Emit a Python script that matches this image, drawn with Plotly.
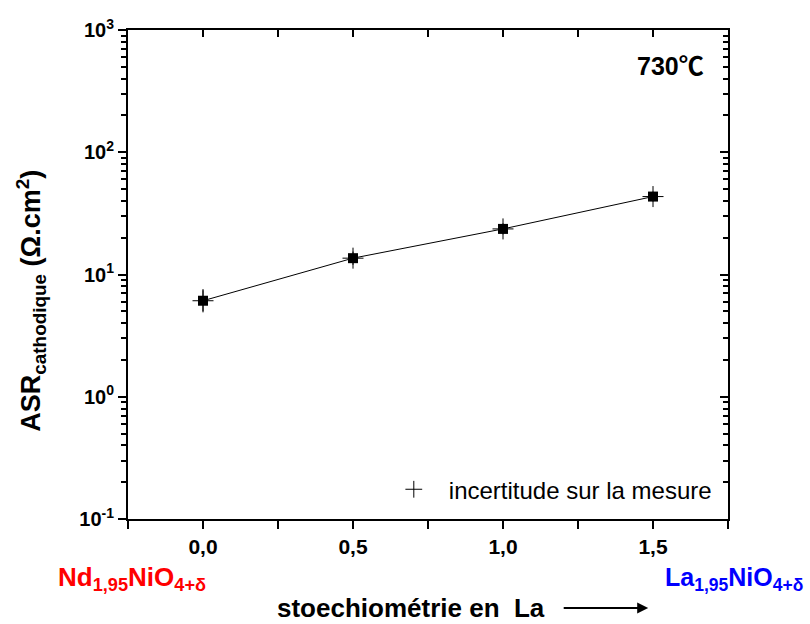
import plotly.graph_objects as go

x_la = [0.0, 0.5, 1.0, 1.5]
asr = [6.1, 13.6, 23.6, 43.4]
err_plus = [1.5, 1.8, 2.6, 4.2]
err_minus = [1.2, 1.6, 2.3, 3.8]

y_major = [0.1, 1, 10, 100, 1000]
y_major_text = ["<b>10<sup>-1</sup></b>", "<b>10<sup>0</sup></b>", "<b>10<sup>1</sup></b>",
                "<b>10<sup>2</sup></b>", "<b>10<sup>3</sup></b>"]
x_major = [0.0, 0.5, 1.0, 1.5]
x_major_text = ["<b>0,0</b>", "<b>0,5</b>", "<b>1,0</b>", "<b>1,5</b>"]
x_minor = [-0.25, 0.25, 0.75, 1.25, 1.75]

y_minor = [m * 10 ** e for e in range(-1, 3) for m in range(2, 10)]

FONT = "Arial, Liberation Sans, Noto Sans CJK JP, sans-serif"

fig = go.Figure()

# connecting line + squares
fig.add_trace(go.Scatter(
    x=x_la, y=asr, mode="lines+markers",
    line=dict(color="black", width=1),
    marker=dict(symbol="square", size=10, color="black"),
    showlegend=False, hoverinfo="skip"))

# uncertainty crosses
fig.add_trace(go.Scatter(
    x=x_la, y=asr, mode="markers",
    marker=dict(symbol="cross-thin-open", size=15, color="black",
                line=dict(color="black", width=1)),
    error_y=dict(type="data", symmetric=False, array=err_plus, arrayminus=err_minus,
                 width=0, thickness=1, color="black"),
    showlegend=False, hoverinfo="skip"))

# legend entry
fig.add_trace(go.Scatter(
    x=[None], y=[None], mode="markers",
    marker=dict(symbol="cross-thin-open", size=12, color="black",
                line=dict(color="black", width=1)),
    name="incertitude sur la mesure"))

# dummy trace for mirror axes
fig.add_trace(go.Scatter(x=[None], y=[None], xaxis="x2", yaxis="y2", showlegend=False))

axis_common = dict(showgrid=False, zeroline=False, showline=True, linecolor="black",
                   linewidth=2, tickcolor="black", tickwidth=1.5, automargin=False)

fig.update_layout(
    width=810, height=624,
    margin=dict(l=128, r=82, t=30, b=105),
    paper_bgcolor="white", plot_bgcolor="white",
    font=dict(family=FONT, color="black"),
    xaxis=dict(range=[-0.25, 1.75], tickvals=x_major, ticktext=x_major_text,
               ticks="outside", ticklen=8, tickfont=dict(size=21, family=FONT),
               minor=dict(tickvals=x_minor, ticks="outside", ticklen=8,
                          tickcolor="black", tickwidth=1.5),
               **axis_common),
    yaxis=dict(type="log", range=[-1, 3], tickvals=y_major, ticktext=y_major_text,
               ticks="outside", ticklen=8, tickfont=dict(size=20, family=FONT),
               minor=dict(tickvals=y_minor, ticks="outside", ticklen=5,
                          tickcolor="black", tickwidth=1.5),
               **axis_common),
    xaxis2=dict(overlaying="x", side="top", range=[-0.25, 1.75],
                tickvals=x_major, showticklabels=False, ticks="inside", ticklen=7,
                minor=dict(tickvals=x_minor, ticks="inside", ticklen=7,
                           tickcolor="black", tickwidth=1.5),
                **axis_common),
    yaxis2=dict(overlaying="y", side="right", type="log", range=[-1, 3],
                tickvals=y_major, showticklabels=False, ticks="inside", ticklen=8,
                minor=dict(tickvals=y_minor, ticks="inside", ticklen=5,
                           tickcolor="black", tickwidth=1.5),
                **axis_common),
    legend=dict(x=0.418, y=0.06, xanchor="left", yanchor="middle",
                bgcolor="rgba(0,0,0,0)", font=dict(size=24, family=FONT),
                itemwidth=60),
    annotations=[
        dict(text="<b>ASR<sub>cathodique</sub> (Ω.cm<sup>2</sup>)</b>",
             xref="paper", yref="paper", x=-0.162, y=0.446, textangle=-90,
             xanchor="center", yanchor="middle", showarrow=False,
             font=dict(size=27, family=FONT)),
        dict(text="<b>730℃</b>", xref="paper", yref="paper", x=0.963, y=0.926,
             xanchor="right", yanchor="middle", showarrow=False,
             font=dict(size=25, family=FONT)),
        dict(text="<b>Nd<sub>1,95</sub>NiO<sub>4+δ</sub></b>", xref="paper", yref="paper",
             x=-0.12, y=-0.122, xanchor="left", yanchor="middle", showarrow=False,
             font=dict(size=26, family=FONT, color="#ff0000")),
        dict(text="<b>La<sub>1,95</sub>NiO<sub>4+δ</sub></b>", xref="paper", yref="paper",
             x=1.128, y=-0.122, xanchor="right", yanchor="middle", showarrow=False,
             font=dict(size=25, family=FONT, color="#0000ff")),
        dict(text="<b>stoechiométrie en  La</b>", xref="paper", yref="paper",
             x=0.245, y=-0.183, xanchor="left", yanchor="middle", showarrow=False,
             font=dict(size=26, family=FONT)),
        dict(x=0.867, y=-0.182, ax=-86, ay=0, xref="paper", yref="paper",
             axref="pixel", ayref="pixel", showarrow=True, arrowhead=2,
             arrowsize=1.1, arrowwidth=2, arrowcolor="black", text=""),
    ],
)

fig.write_html("out.html", config={"displayModeBar": False},
               post_script="document.body.style.margin='0';")
